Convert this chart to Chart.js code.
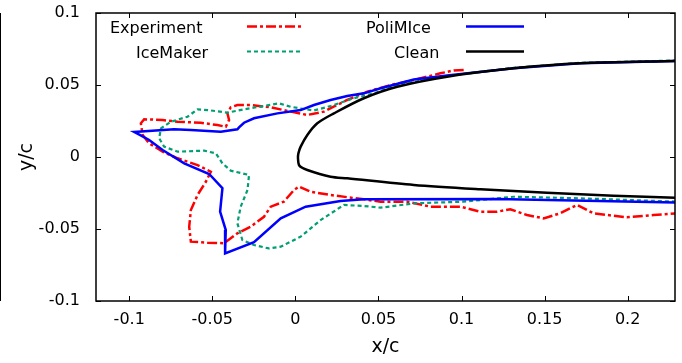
<!DOCTYPE html>
<html><head><meta charset="utf-8">
<script src="https://cdn.jsdelivr.net/npm/chart.js@4"></script>
<style>
html,body{margin:0;padding:0;background:#fff;}
#wrap{position:relative;width:682px;height:363px;}
#edge{position:absolute;left:0;top:13px;width:0;height:288px;border-left:1px solid #000;}
</style></head><body>
<div id="wrap"><canvas id="c" width="682" height="363"></canvas><div id="edge"></div></div>
<script>
const seriesNames = ['Experiment', 'IceMaker', 'PoliMIce', 'Clean'];
const xTicks = [-0.1, -0.05, 0, 0.05, 0.1, 0.15, 0.2];
const xTickLabels = ['-0.1', '-0.05', '0', '0.05', '0.1', '0.15', '0.2'];
const yTicks = [-0.1, -0.05, 0, 0.05, 0.1];
const yTickLabels = ['-0.1', '-0.05', '0', '0.05', '0.1'];

const expX = [0.1013,0.0953,0.0873,0.0713,0.0573,0.0433,0.0312,0.0172,0.0072,-0.0028,-0.0148,-0.0269,-0.0349,-0.0389,-0.0409,-0.0399,-0.0419,-0.0469,-0.0569,-0.0709,-0.0799,-0.0910,-0.0930,-0.0919,-0.0880,-0.0799,-0.0709,-0.0589,-0.0509,-0.0539,-0.0589,-0.0629,-0.0639,-0.0629,-0.0529,-0.0429,-0.0349,-0.0269,-0.0189,-0.0148,-0.0069,-0.0008,0.0022,0.0092,0.0212,0.0412,0.0513,0.0673,0.0813,0.0993,0.1113,0.1214,0.1294,0.1394,0.1494,0.1594,0.1695,0.1794,0.1995,0.2155,0.2296];
const expY = [0.0604,0.0601,0.0581,0.0535,0.0500,0.0453,0.0396,0.0315,0.0292,0.0315,0.0345,0.0361,0.0361,0.0345,0.0303,0.0257,0.0210,0.0222,0.0238,0.0245,0.0257,0.0262,0.0234,0.0153,0.0095,0.0037,-0.0009,-0.0056,-0.0102,-0.0172,-0.0264,-0.0368,-0.0484,-0.0588,-0.0595,-0.0599,-0.0530,-0.0484,-0.0415,-0.0345,-0.0310,-0.0229,-0.0205,-0.0241,-0.0264,-0.0294,-0.0310,-0.0310,-0.0345,-0.0345,-0.0380,-0.0380,-0.0363,-0.0403,-0.0426,-0.0391,-0.0333,-0.0391,-0.0419,-0.0403,-0.0391];

const iceX = [0.2296,0.1715,0.1314,0.0913,0.0613,0.0472,0.0352,0.0212,0.0112,0.0032,-0.0028,-0.0099,-0.0189,-0.0309,-0.0409,-0.0529,-0.0589,-0.0649,-0.0749,-0.0809,-0.0820,-0.0790,-0.0709,-0.0549,-0.0479,-0.0439,-0.0389,-0.0279,-0.0288,-0.0329,-0.0349,-0.0319,-0.0249,-0.0160,-0.0088,0.0032,0.0152,0.0292,0.0412,0.0513,0.0713,0.1013,0.1314,0.1715,0.2296];
const iceY = [0.0670,0.0654,0.0619,0.0563,0.0500,0.0442,0.0408,0.0354,0.0323,0.0337,0.0349,0.0373,0.0354,0.0331,0.0308,0.0326,0.0331,0.0280,0.0245,0.0199,0.0130,0.0072,0.0037,0.0044,0.0026,-0.0044,-0.0095,-0.0125,-0.0229,-0.0345,-0.0460,-0.0576,-0.0611,-0.0635,-0.0623,-0.0553,-0.0438,-0.0333,-0.0340,-0.0352,-0.0322,-0.0310,-0.0276,-0.0287,-0.0310];

const polX = [0.2296,0.1715,0.1314,0.0913,0.0713,0.0513,0.0412,0.0312,0.0212,0.0112,0.0032,-0.0108,-0.0249,-0.0309,-0.0339,-0.0349,-0.0449,-0.0629,-0.0730,-0.0970,-0.0880,-0.0799,-0.0669,-0.0519,-0.0439,-0.0453,-0.0419,-0.0423,-0.0249,-0.0088,0.0062,0.0272,0.0412,0.1214,0.2296];
const polY = [0.0667,0.0651,0.0616,0.0566,0.0538,0.0477,0.0442,0.0424,0.0396,0.0361,0.0326,0.0303,0.0269,0.0238,0.0206,0.0192,0.0176,0.0188,0.0192,0.0174,0.0118,0.0049,-0.0044,-0.0118,-0.0217,-0.0380,-0.0507,-0.0669,-0.0592,-0.0426,-0.0345,-0.0306,-0.0294,-0.0292,-0.0317];

const cleanX = [0.2296,0.1715,0.1314,0.0913,0.0613,0.0412,0.0232,0.0132,0.0072,0.0032,0.0018,0.0016,0.0024,0.0072,0.0212,0.0312,0.0713,0.1114,0.1514,0.1915,0.2296];
const cleanY = [0.0667,0.0651,0.0616,0.0558,0.0488,0.0408,0.0303,0.0234,0.0153,0.0072,0.0025,-0.0012,-0.0060,-0.0090,-0.0137,-0.0148,-0.0194,-0.0224,-0.0248,-0.0269,-0.0283];

function pts(xs, ys){ const n = Math.min(xs.length, ys.length); const r = []; for (let i=0;i<n;i++) r.push({x:xs[i], y:ys[i]}); return r; }

const colors = ['#ff0000', '#009e73', '#0000ff', '#000000'];
const dashes = [[10,3,3,3], [4,3], [], []];
const widths = [2.5, 2.2, 2.5, 2.5];
const seriesData = [pts(expX, expY), pts(iceX, iceY), pts(polX, polY), pts(cleanX, cleanY)];

const FONT = '"DejaVu Sans", sans-serif';

const framePlugin = {
  id: 'frame',
  afterDatasetsDraw(chart) {
    const {ctx, chartArea: a, scales: {x, y}} = chart;
    ctx.save();
    ctx.strokeStyle = '#000';
    ctx.lineWidth = 1.5;
    ctx.strokeRect(a.left, a.top, a.right - a.left, a.bottom - a.top);
    ctx.lineWidth = 1;
    ctx.beginPath();
    xTicks.forEach(v => {
      const p = Math.round(x.getPixelForValue(v)) + 0.5;
      ctx.moveTo(p, a.bottom); ctx.lineTo(p, a.bottom - 5);
      ctx.moveTo(p, a.top); ctx.lineTo(p, a.top + 5);
    });
    yTicks.forEach(v => {
      const p = Math.round(y.getPixelForValue(v)) + 0.5;
      ctx.moveTo(a.left, p); ctx.lineTo(a.left + 5, p);
      ctx.moveTo(a.right, p); ctx.lineTo(a.right - 5, p);
    });
    ctx.stroke();

    // key
    const textX = [110, 136, 366, 394];
    const rowY = [29, 54];
    const sampleX = [[247, 303], [247, 303], [466, 524], [466, 524]];
    ctx.font = '16px ' + FONT;
    ctx.fillStyle = '#000';
    ctx.textAlign = 'left';
    ctx.textBaseline = 'middle';
    seriesNames.forEach((name, i) => {
      const row = i % 2;
      ctx.fillText(name, textX[i], rowY[row]);
      ctx.beginPath();
      ctx.strokeStyle = colors[i];
      ctx.lineWidth = widths[i];
      ctx.setLineDash(dashes[i]);
      ctx.moveTo(sampleX[i][0], rowY[row] - 2.5);
      ctx.lineTo(sampleX[i][1], rowY[row] - 2.5);
      ctx.stroke();
    });
    ctx.setLineDash([]);
    ctx.restore();
  }
};

new Chart(document.getElementById('c'), {
  type: 'scatter',
  data: {
    datasets: seriesNames.map((name, i) => ({
      label: name,
      data: seriesData[i],
      showLine: true,
      borderColor: colors[i],
      backgroundColor: colors[i],
      borderWidth: widths[i],
      borderDash: dashes[i],
      pointRadius: 0,
      pointHoverRadius: 0,
      tension: i === 3 ? 0.3 : 0,
      fill: false,
      clip: 0,
      order: 3 - i
    }))
  },
  options: {
    responsive: false,
    animation: false,
    devicePixelRatio: 1,
    layout: { padding: { top: 13, right: 7, left: 0, bottom: 0 } },
    plugins: { legend: { display: false }, tooltip: { enabled: false } },
    scales: {
      x: {
        type: 'linear', position: 'bottom',
        min: -0.12, max: 0.2285,
        afterBuildTicks(s) { s.ticks = xTicks.map(v => ({value: v})); },
        afterFit(s) { s.height = 62; s.paddingLeft = 0; s.paddingRight = 0; },
        grid: { display: false, drawTicks: false },
        border: { display: false },
        ticks: {
          padding: 9, color: '#000', font: { family: FONT, size: 16 },
          maxRotation: 0, autoSkip: false,
          callback: (v) => { const k = xTicks.findIndex(t => Math.abs(t - v) < 1e-9); return k >= 0 ? xTickLabels[k] : ''; }
        },
        title: { display: true, text: 'x/c', color: '#000', font: { family: FONT, size: 19 }, padding: { top: 0, bottom: 5 } }
      },
      y: {
        type: 'linear', position: 'left',
        min: -0.1, max: 0.1,
        afterBuildTicks(s) { s.ticks = yTicks.map(v => ({value: v})); },
        afterFit(s) { s.width = 96; s.paddingTop = 0; s.paddingBottom = 0; },
        grid: { display: false, drawTicks: false },
        border: { display: false },
        ticks: {
          padding: 16, color: '#000', font: { family: FONT, size: 16 },
          autoSkip: false,
          callback: (v) => { const k = yTicks.findIndex(t => Math.abs(t - v) < 1e-9); return k >= 0 ? yTickLabels[k] : ''; }
        },
        title: { display: true, text: 'y/c', color: '#000', font: { family: FONT, size: 19 }, padding: { top: 16, bottom: 0 } }
      }
    }
  },
  plugins: [framePlugin]
});
</script>
</body></html>
